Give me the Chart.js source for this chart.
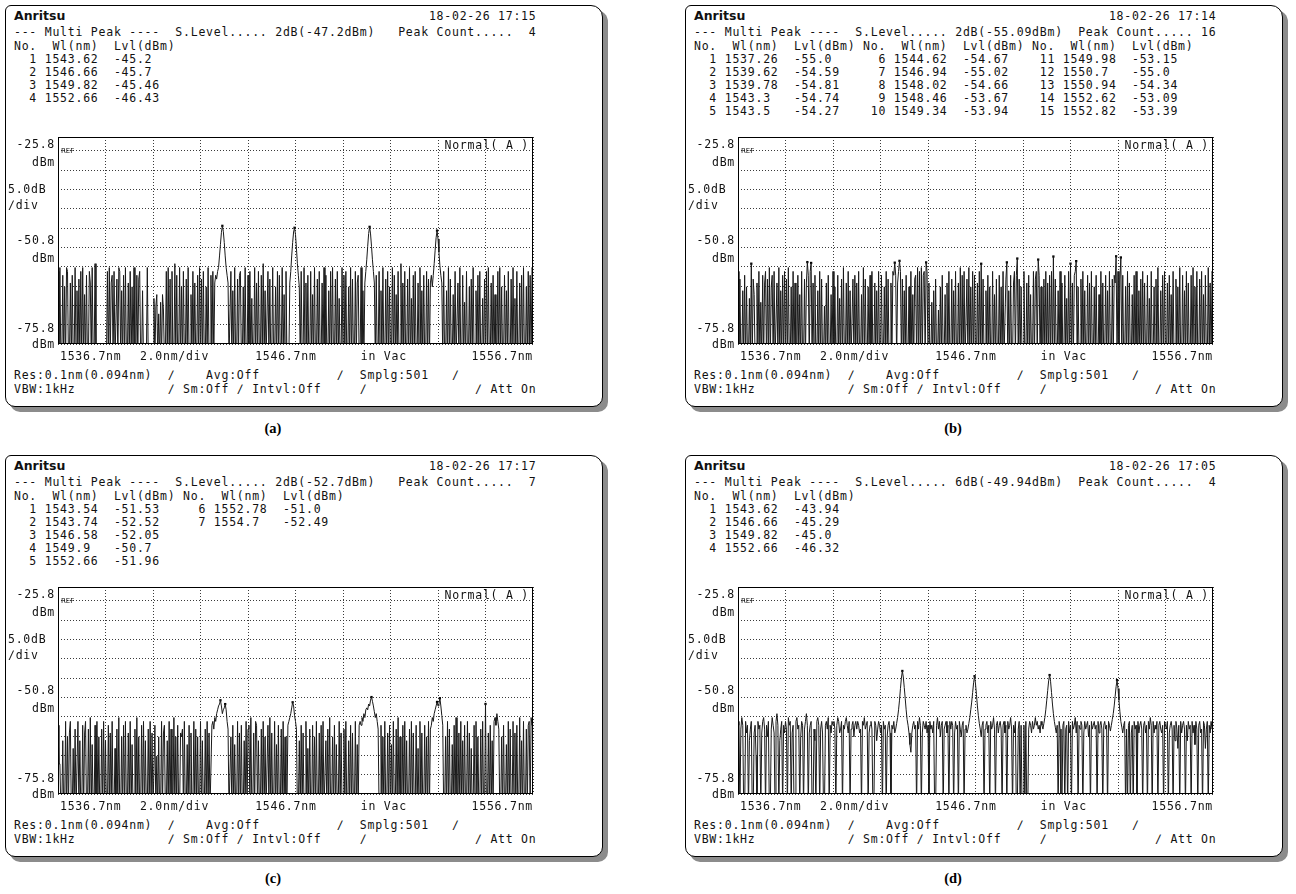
<!DOCTYPE html>
<html>
<head>
<meta charset="utf-8">
<title>Multi Peak</title>
<script src="https://cdn.jsdelivr.net/npm/chart.js@4.4.1/dist/chart.umd.min.js"></script>
<style>
body { margin: 0; background: #fff; }
#page { position: relative; width: 1296px; height: 894px; overflow: hidden; background: #fff; }
.frame { position: absolute; width: 596px; height: 400px; border: 1px solid #000; border-radius: 6px 12px 10px 10px; box-shadow: 5px 5px 0 #8c8c8c; background: #fff; }
.txt { position: absolute; left: 8px; white-space: pre; font-family: "DejaVu Sans Mono", monospace; font-size: 11.5px; letter-spacing: 0.76px; line-height: 14px; color: #111; }
.logo { position: absolute; left: 0; top: 0; font-family: "DejaVu Sans", sans-serif; font-weight: bold; font-size: 12.5px; letter-spacing: 0; }
.cap { position: absolute; width: 40px; text-align: center; font-family: "Liberation Serif", serif; font-weight: bold; font-size: 14.5px; line-height: 18px; }
canvas { position: absolute; left: 0; top: 119px; }
</style>
</head>
<body>
<div id="page"></div>
<script>
// sampling of the OSA: 501 points over 1536.7 .. 1556.7 nm
const wlStart = 1536.7;
const wlStep = 0.04;
const xGrid = [1536.7, 1538.7, 1540.7, 1542.7, 1544.7, 1546.7, 1548.7, 1550.7, 1552.7, 1554.7, 1556.7];
const yGrid = [-75.8, -70.8, -65.8, -60.8, -55.8, -50.8, -45.8, -40.8, -35.8, -30.8, -25.8];
const yTop = -22.2;
const yLabelValues = [-25.8, -50.8, -75.8];
const xLabelText = ['1536.7nm', '2.0nm/div', '1546.7nm', 'in Vac', '1556.7nm'];
const xLabelAt = [1536.7, 1540.15, 1545.0, 1549.45, 1556.7];

const captions = ['(a)', '(b)', '(c)', '(d)'];
const dates = ['18-02-26 17:15', '18-02-26 17:14', '18-02-26 17:17', '18-02-26 17:05'];
const sLevels = ['2dB(-47.2dBm)', '2dB(-55.09dBm)', '2dB(-52.7dBm)', '6dB(-49.94dBm)'];
const peakCounts = [4, 16, 7, 4];

const peakWlA = [1543.62, 1546.66, 1549.82, 1552.66];
const peakLvlA = [-45.2, -45.7, -45.46, -46.43];
const peakWlB = [1537.26, 1539.62, 1539.78, 1543.3, 1543.5, 1544.62, 1546.94, 1548.02, 1548.46, 1549.34, 1549.98, 1550.7, 1550.94, 1552.62, 1552.82];
const peakLvlB = [-55.0, -54.59, -54.81, -54.74, -54.27, -54.67, -55.02, -54.66, -53.67, -53.94, -53.15, -55.0, -54.34, -53.09, -53.39];
const peakWlC = [1543.54, 1543.74, 1546.58, 1549.9, 1552.66, 1552.78, 1554.7];
const peakLvlC = [-51.53, -52.52, -52.05, -50.7, -51.96, -51.0, -52.49];
const peakWlD = [1543.62, 1546.66, 1549.82, 1552.66];
const peakLvlD = [-43.94, -45.29, -45.0, -46.32];

// trace levels (dBm), one row = 1 nm; -80 = below the screen
const traceA = [
  -57,-80,-56,-80,-80,-58,-80,-61,-80,-56,-57,-80,-80,-60,-80,-58,-80,-80,-56,-80,-62,-80,-59,-80,-57,
  -80,-56,-80,-63,-80,-58,-80,-80,-57,-60,-80,-56,-80,-80,-55,-80,-80,-80,-80,-80,-80,-80,-80,-80,-80,
  -80,-80,-57,-80,-56,-80,-60,-58,-80,-57,-80,-80,-59,-80,-56,-57,-80,-62,-80,-58,-80,-56,-80,-80,-60,
  -80,-57,-80,-61,-80,-56,-80,-80,-58,-80,-59,-57,-80,-80,-62,-80,-80,-80,-80,-56,-80,-80,-80,-80,-80,
  -80,-64,-80,-66,-63,-80,-68,-80,-65,-80,-63,-67,-80,-80,-57,-80,-56,-80,-59,-80,-57,-80,-80,-55,-80,
  -58,-80,-80,-56,-80,-61,-80,-57,-80,-80,-59,-80,-56,-80,-80,-63,-80,-57,-80,-60,-80,-80,-58,-80,-56,
  -80,-59,-80,-57,-80,-80,-61,-80,-56,-80,-80,-58,-80,-57,-80,-60,-58,-59,-57,-56,-53,-50,-47,-45.2,-46.6,
  -49.5,-53,-56,-58,-60,-80,-80,-57,-80,-62,-80,-56,-80,-80,-59,-80,-58,-57,-80,-80,-61,-80,-56,-80,-80,
  -58,-80,-57,-80,-64,-80,-80,-56,-80,-60,-80,-57,-80,-80,-58,-80,-55,-80,-62,-80,-80,-57,-80,-59,-80,
  -80,-56,-80,-80,-61,-80,-57,-80,-58,-80,-80,-56,-80,-63,-80,-57,-80,-80,-80,-60,-57,-53,-49.5,-46.8,-45.7,
  -47.5,-51,-55,-58,-61,-80,-57,-80,-80,-56,-80,-60,-80,-58,-80,-80,-57,-80,-63,-80,-56,-80,-80,-59,-80,
  -57,-80,-80,-60,-80,-56,-80,-58,-80,-80,-62,-80,-57,-80,-56,-80,-80,-59,-80,-57,-80,-64,-80,-80,-56,
  -80,-58,-80,-57,-80,-80,-61,-80,-56,-80,-59,-80,-80,-57,-80,-60,-58,-80,-80,-56,-80,-62,-80,-60,-57,
  -54,-50.5,-47.2,-45.46,-47.3,-50.5,-54,-57,-60,-80,-58,-80,-80,-57,-80,-62,-80,-56,-80,-80,-59,-80,-57,-80,-61,
  -80,-80,-56,-80,-58,-80,-63,-80,-57,-80,-80,-55,-80,-60,-80,-57,-80,-80,-59,-80,-56,-80,-64,-80,-58,
  -80,-57,-80,-80,-60,-80,-56,-80,-62,-80,-58,-80,-80,-57,-80,-59,-80,-60,-58,-61,-58,-55,-51.5,-48.3,-46.43,
  -48.6,-52,-55.5,-58,-60,-80,-57,-80,-80,-62,-80,-56,-80,-59,-80,-80,-63,-80,-57,-80,-80,-60,-80,-56,-80,
  -80,-58,-80,-65,-80,-57,-80,-80,-61,-80,-59,-80,-56,-80,-80,-62,-80,-58,-80,-57,-80,-80,-64,-80,-59,
  -80,-57,-80,-56,-80,-80,-60,-80,-58,-80,-63,-80,-80,-57,-80,-56,-80,-61,-80,-80,-58,-80,-62,-80,-57,
  -80,-80,-59,-80,-56,-80,-64,-80,-57,-80,-80,-60,-80,-58,-80,-56,-80,-80,-61,-80,-57,-80,-58,-80,-56,
  -57
];
const traceB = [
  -57,-80,-59,-80,-80,-62,-80,-58,-80,-61,-80,-80,-64,-80,-55,-80,-59,-63,-80,-80,-60,-80,-57,-80,-65,
  -80,-58,-80,-60,-57,-80,-59,-80,-56,-80,-61,-58,-80,-57,-80,-80,-60,-80,-56,-80,-62,-80,-58,-80,-57,
  -80,-59,-80,-56,-80,-80,-61,-80,-57,-80,-60,-80,-80,-58,-80,-63,-80,-57,-80,-80,-59,-80,-60,-54.59,-58,
  -80,-57,-54.81,-80,-60,-80,-58,-80,-80,-62,-80,-57,-80,-59,-80,-80,-66,-80,-60,-80,-58,-80,-80,-63,-80,
  -57,-80,-61,-80,-80,-58,-80,-64,-80,-59,-80,-56,-80,-80,-60,-80,-57,-80,-62,-80,-80,-59,-80,-58,-80,
  -60,-80,-57,-80,-80,-63,-80,-56,-80,-59,-80,-80,-61,-80,-58,-80,-57,-80,-80,-60,-80,-62,-80,-57,-80,
  -80,-58,-80,-80,-61,-80,-57,-80,-59,-80,-80,-60,-80,-57,-58,-54.74,-58,-80,-60,-57,-54.27,-57,-80,-59,-80,
  -62,-80,-58,-80,-80,-61,-80,-57,-80,-63,-80,-59,-58,-80,-56,-80,-57,-80,-56,-80,-58,-57,-80,-54.67,-57,
  -80,-60,-80,-80,-65,-80,-62,-80,-59,-80,-80,-67,-80,-61,-80,-58,-80,-80,-63,-80,-60,-80,-57,-80,-80,
  -59,-80,-62,-80,-57,-80,-80,-60,-80,-56,-80,-58,-80,-57,-80,-80,-59,-80,-56,-80,-61,-80,-57,-80,-58,
  -80,-80,-60,-80,-57,-80,-55.02,-80,-59,-80,-80,-62,-80,-58,-80,-61,-80,-80,-57,-80,-63,-80,-59,-80,-80,
  -58,-80,-61,-80,-57,-80,-80,-59,-54.66,-80,-62,-80,-58,-80,-80,-60,-57,-80,-58,-53.67,-80,-59,-80,-61,-80,
  -80,-57,-80,-80,-60,-80,-58,-80,-63,-80,-80,-57,-80,-59,-57,-80,-53.94,-58,-80,-61,-80,-80,-59,-80,-57,
  -80,-60,-80,-58,-80,-57,-80,-53.15,-80,-59,-80,-80,-62,-80,-57,-80,-60,-80,-80,-58,-80,-64,-80,-57,-80,
  -55.0,-80,-60,-80,-58,-57,-54.34,-80,-61,-80,-80,-59,-80,-57,-80,-62,-80,-80,-58,-80,-60,-80,-57,-80,-80,
  -61,-80,-58,-80,-80,-63,-80,-57,-80,-60,-80,-80,-58,-80,-62,-80,-57,-80,-80,-59,-80,-58,-60,-53.09,-80,
  -57,-80,-59,-53.39,-80,-58,-80,-80,-61,-80,-57,-80,-60,-80,-80,-63,-80,-58,-80,-57,-80,-80,-62,-80,-59,
  -80,-57,-80,-60,-80,-80,-58,-80,-64,-80,-57,-80,-80,-61,-80,-59,-80,-56,-80,-80,-62,-80,-58,-80,-57,
  -80,-80,-60,-80,-58,-80,-63,-80,-57,-80,-80,-59,-80,-61,-80,-56,-80,-80,-58,-80,-62,-80,-57,-80,-60,
  -80,-80,-58,-80,-56,-80,-61,-80,-57,-80,-80,-59,-80,-57,-80,-63,-80,-58,-80,-80,-56,-80,-60,-80,-57,
  -58
];
const traceC = [
  -58,-68,-68,-80,-80,-62,-80,-80,-57,-80,-61,-80,-60,-57,-80,-80,-64,-80,-59,-80,-80,-57,-80,-62,-80,
  -80,-58,-80,-60,-57,-80,-80,-59,-80,-56,-80,-63,-80,-80,-58,-80,-57,-80,-61,-80,-80,-59,-80,-57,-80,
  -62,-80,-80,-58,-80,-60,-80,-57,-80,-80,-64,-80,-59,-80,-56,-80,-80,-61,-80,-58,-80,-57,-80,-80,-60,
  -80,-57,-80,-63,-80,-80,-59,-80,-56,-80,-61,-80,-80,-58,-80,-57,-80,-62,-80,-80,-59,-80,-57,-80,-60,
  -80,-80,-58,-80,-66,-80,-61,-80,-80,-57,-80,-60,-58,-80,-80,-62,-80,-57,-80,-59,-80,-80,-56,-80,-61,
  -80,-58,-80,-80,-60,-61,-59,-80,-57,-80,-80,-63,-80,-58,-80,-60,-80,-80,-57,-80,-59,-80,-61,-80,-80,
  -57,-80,-62,-80,-80,-59,-80,-57,-80,-60,-80,-80,-58,-57,-59,-56,-57,-55,-54,-53,-52.5,-51.53,-53,-55,-54,
  -53.5,-52.52,-54,-57,-59,-80,-80,-61,-80,-58,-80,-63,-80,-80,-57,-80,-60,-80,-58,-80,-80,-62,-80,-57,-80,
  -59,-58,-80,-56,-80,-80,-60,-80,-57,-58,-80,-62,-80,-80,-59,-80,-57,-80,-61,-80,-80,-58,-80,-56,-80,
  -60,-80,-80,-57,-80,-63,-80,-58,-80,-80,-59,-80,-57,-80,-61,-80,-80,-58,-57,-56,-55,-53.5,-52.05,-53,-55.5,
  -57,-59,-80,-80,-62,-80,-58,-80,-60,-80,-80,-57,-80,-64,-80,-59,-80,-80,-58,-80,-61,-80,-57,-80,-80,
  -60,-80,-58,-80,-57,-80,-80,-62,-80,-59,-80,-56,-80,-80,-61,-80,-58,-80,-63,-80,-80,-57,-80,-60,-80,
  -80,-59,-80,-57,-80,-80,-62,-80,-58,-80,-60,-80,-80,-57,-80,-63,-80,-58,-57,-58,-56,-57,-55,-56,-54,
  -53.5,-54,-52.5,-53,-51.5,-50.7,-51.8,-53,-54.5,-56,-55,-57,-59,-80,-80,-58,-80,-61,-80,-57,-80,-80,-60,-80,-58,
  -80,-63,-80,-57,-80,-80,-59,-80,-56,-80,-61,-80,-80,-58,-80,-57,-80,-62,-80,-80,-59,-80,-57,-80,-60,
  -80,-80,-58,-80,-64,-80,-57,-80,-60,-80,-80,-58,-80,-61,-80,-57,-80,-59,-58,-56,-57,-55,-54,-53,-51.96,
  -53,-52.5,-51.0,-53,-55.5,-58,-80,-80,-61,-80,-57,-80,-59,-80,-80,-63,-80,-58,-80,-56,-80,-80,-60,-80,-57,
  -80,-62,-80,-58,-80,-80,-57,-80,-60,-80,-64,-80,-80,-58,-80,-57,-80,-61,-80,-80,-59,-80,-57,-80,-80,
  -52.49,-80,-80,-60,-80,-58,-80,-62,-80,-57,-56,-58,-55,-57,-59,-80,-80,-61,-80,-58,-80,-80,-63,-80,-57,
  -80,-59,-80,-80,-57,-80,-60,-80,-58,-80,-80,-56,-80,-62,-80,-57,-80,-80,-59,-80,-58,-57,-80,-56,-58,
  -57
];
const traceD = [
  -58,-57,-80,-59,-56,-58,-80,-80,-57,-60,-58,-80,-62,-59,-57,-80,-80,-60,-58,-66,-80,-57,-59,-58,-80,
  -60,-57,-56,-59,-80,-58,-61,-57,-80,-80,-59,-56,-58,-60,-80,-57,-55,-58,-80,-62,-59,-57,-80,-58,-60,
  -57,-59,-80,-56,-58,-57,-80,-60,-58,-80,-80,-57,-56,-59,-58,-80,-61,-57,-58,-80,-59,-57,-55,-58,-80,
  -60,-58,-57,-80,-80,-59,-62,-80,-57,-56,-58,-80,-59,-57,-60,-80,-80,-58,-57,-59,-56,-80,-58,-60,-57,
  -58,-57,-59,-80,-58,-56,-57,-60,-59,-57,-80,-58,-59,-57,-56,-58,-60,-57,-80,-59,-58,-57,-61,-58,-57,
  -59,-57,-58,-60,-59,-80,-57,-58,-56,-59,-58,-57,-80,-60,-58,-57,-59,-80,-80,-57,-58,-62,-59,-57,-58,
  -60,-58,-80,-57,-59,-58,-80,-61,-58,-57,-60,-80,-58,-59,-57,-60,-59,-57.5,-56,-54,-51.5,-48.5,-45.8,-43.94,-45.5,
  -48.2,-51,-54,-56.5,-58,-60,-63,-65,-60,-58,-57,-59,-58,-80,-57,-59,-56,-58,-80,-60,-57,-58,-59,-57,-60,
  -58,-80,-57,-59,-58,-60,-57,-80,-80,-58,-56,-59,-57,-61,-58,-57,-80,-59,-58,-57,-60,-58,-80,-57,-59,
  -57,-58,-80,-60,-57,-59,-58,-80,-57,-59,-61,-58,-57,-80,-59,-58,-60,-59,-57.5,-56,-54,-52,-49.5,-47,-45.29,
  -47.3,-50,-53,-55.5,-57.5,-59,-61,-58,-57,-80,-59,-58,-57,-60,-58,-80,-57,-59,-58,-56,-59,-80,-58,-57,-60,
  -58,-57,-59,-80,-58,-57,-60,-58,-80,-57,-59,-58,-56,-59,-80,-58,-60,-57,-80,-80,-59,-57,-80,-58,-80,
  -80,-58,-80,-57,-80,-80,-59,-57,-58,-60,-57,-59,-58,-56,-58,-57,-59,-58,-60,-57,-58,-59,-57.5,-56,-54,
  -51.5,-49,-46.5,-45.0,-46.6,-49.5,-52.5,-55,-57,-58.5,-60,-58,-80,-57,-59,-80,-80,-58,-57,-80,-59,-58,-80,-57,-60,
  -58,-80,-57,-59,-58,-56,-60,-57,-80,-58,-59,-57,-58,-80,-60,-57,-59,-58,-57,-61,-58,-80,-57,-59,-58,
  -57,-59,-58,-80,-57,-60,-58,-57,-59,-80,-58,-57,-59,-58,-80,-57,-58,-59.5,-58,-56.5,-55,-53,-50.5,-48,-46.32,
  -48.5,-51.5,-54.5,-57,-58.5,-60,-58,-57,-80,-59,-80,-58,-57,-80,-60,-58,-80,-57,-59,-58,-80,-57,-60,-58,-57,
  -59,-80,-58,-57,-60,-58,-80,-57,-59,-56,-58,-80,-57,-60,-58,-59,-57,-80,-58,-57,-59,-60,-58,-80,-57,
  -58,-59,-57,-80,-60,-58,-57,-59,-80,-58,-62,-57,-59,-64,-58,-80,-57,-60,-58,-57,-59,-80,-58,-62,-57,
  -59,-58,-80,-57,-60,-58,-63,-57,-59,-80,-58,-57,-60,-59,-80,-57,-58,-64,-59,-57,-80,-58,-60,-57,-59,
  -58
];

const panels = [
  { left: 5, top: 5, trace: traceA, wl: peakWlA, lvl: peakLvlA },
  { left: 685, top: 5, trace: traceB, wl: peakWlB, lvl: peakLvlB },
  { left: 5, top: 455, trace: traceC, wl: peakWlC, lvl: peakLvlC },
  { left: 685, top: 455, trace: traceD, wl: peakWlD, lvl: peakLvlD }
];

const monoFont = '11.5px "DejaVu Sans Mono"';
const page = document.getElementById('page');

// 1543.3 -> "1543.3", 1543.62 -> "1543.62", -55 -> "-55.0"
function fmt(v) {
    return Math.round(v * 100) % 10 === 0 ? v.toFixed(1) : v.toFixed(2);
}

function tableLines(wl, lvl) {
    const cols = Math.ceil(wl.length / 5);
    const rows = Math.min(5, wl.length);
    let head = '';
    for (let c = 0; c < cols; c++) head += 'No.  Wl(nm)  Lvl(dBm)'.padEnd(22);
    const lines = [head.trimEnd()];
    for (let r = 0; r < rows; r++) {
        let s = '';
        for (let c = 0; c < cols; c++) {
            const i = c * 5 + r;
            if (i >= wl.length) break;
            s += (String(i + 1).padStart(3) + ' ' + fmt(wl[i]).padEnd(7) + '  ' + fmt(lvl[i])).padEnd(22);
        }
        lines.push(s.trimEnd());
    }
    return lines;
}

function addLine(parent, y, text) {
    const d = document.createElement('div');
    d.className = 'txt';
    d.style.top = (y - 8) + 'px';
    d.textContent = text;
    parent.appendChild(d);
    return d;
}

// grid frame, axis labels and the small screen texts
const osaOverlay = {
    id: 'osaOverlay',
    afterDraw(chart) {
        const { ctx, chartArea: a, scales: { x, y } } = chart;
        ctx.save();
        ctx.strokeStyle = '#000';
        ctx.lineWidth = 1;
        ctx.strokeRect(a.left + 0.5, a.top + 0.5, a.right - a.left - 1, a.bottom - a.top - 1);

        ctx.fillStyle = '#111';
        ctx.font = monoFont;
        ctx.letterSpacing = '0.76px';
        ctx.textBaseline = 'middle';
        ctx.textAlign = 'right';
        yLabelValues.forEach((v, i) => {
            const py = y.getPixelForValue(v);
            const up = i === 2 ? 15 : 6;
            const down = i === 2 ? 1 : 12;
            ctx.fillText(v.toFixed(1), a.left - 3, py - up);
            ctx.fillText('dBm', a.left - 3, py + down);
        });
        ctx.textAlign = 'left';
        ctx.fillText('5.0dB', 2, y.getPixelForValue(-36.0));
        ctx.fillText('\u2215div', 2, y.getPixelForValue(-40.0));

        xLabelText.forEach((t, i) => {
            ctx.textAlign = i === xLabelText.length - 1 ? 'right' : 'left';
            ctx.fillText(t, x.getPixelForValue(xLabelAt[i]) + (i === 0 ? 2 : 0), a.bottom + 13);
        });

        ctx.textAlign = 'right';
        ctx.fillText('Normal( A )', a.right - 4, a.top + 9);

        ctx.letterSpacing = '0px';
        ctx.font = '7px "DejaVu Sans"';
        ctx.textAlign = 'left';
        ctx.fillText('REF', a.left + 3, y.getPixelForValue(-25.8));
        ctx.restore();
    }
};

function buildPanel(p, k) {
    const frame = document.createElement('div');
    frame.className = 'frame';
    frame.style.left = p.left + 'px';
    frame.style.top = p.top + 'px';
    page.appendChild(frame);

    const first = addLine(frame, 11, ' '.repeat(54) + dates[k]);
    const logo = document.createElement('span');
    logo.className = 'logo';
    logo.textContent = 'Anritsu';
    first.appendChild(logo);

    addLine(frame, 27, '--- Multi Peak ----  S.Level..... ' + sLevels[k].padEnd(16) + 'Peak Count.....' + String(peakCounts[k]).padStart(3));
    tableLines(p.wl, p.lvl).forEach((line, i) => addLine(frame, 41 + i * 13, line));

    addLine(frame, 370, 'Res:0.1nm(0.094nm)  \u2215    Avg:Off          \u2215  Smplg:501   \u2215');
    addLine(frame, 384, 'VBW:1kHz            \u2215 Sm:Off \u2215 Intvl:Off     \u2215              \u2215 Att On');

    const cap = document.createElement('div');
    cap.className = 'cap';
    cap.style.left = (p.left + 248) + 'px';
    cap.style.top = (p.top + 414) + 'px';
    cap.textContent = captions[k];
    page.appendChild(cap);

    const canvas = document.createElement('canvas');
    canvas.width = 596;
    canvas.height = 250;
    frame.appendChild(canvas);

    new Chart(canvas.getContext('2d'), {
        type: 'line',
        data: {
            datasets: [{
                data: p.trace.map((v, i) => ({ x: wlStart + i * wlStep, y: v })),
                borderColor: '#1a1a1a',
                borderWidth: 1,
                pointRadius: 0,
                tension: 0
            }, {
                data: p.wl.map((w, i) => ({ x: w, y: p.lvl[i] })),
                showLine: false,
                pointStyle: 'rect',
                pointRadius: 1.6,
                borderWidth: 0,
                backgroundColor: '#000'
            }]
        },
        options: {
            responsive: false,
            animation: false,
            devicePixelRatio: 1,
            layout: { padding: { left: 52, right: 69, top: 12, bottom: 31 } },
            plugins: { legend: { display: false }, tooltip: { enabled: false } },
            scales: {
                x: {
                    type: 'linear',
                    min: xGrid[0],
                    max: xGrid[xGrid.length - 1],
                    afterBuildTicks: s => { s.ticks = xGrid.map(v => ({ value: v })); },
                    ticks: { display: false },
                    grid: { color: '#3a3a3a', drawTicks: false },
                    border: { display: false, dash: [1, 2] }
                },
                y: {
                    min: yGrid[0],
                    max: yTop,
                    afterBuildTicks: s => { s.ticks = yGrid.map(v => ({ value: v })); },
                    ticks: { display: false },
                    grid: { color: '#3a3a3a', drawTicks: false },
                    border: { display: false, dash: [1, 2] }
                }
            }
        },
        plugins: [osaOverlay]
    });
}

panels.forEach((p, k) => buildPanel(p, k));
</script>
</body>
</html>
